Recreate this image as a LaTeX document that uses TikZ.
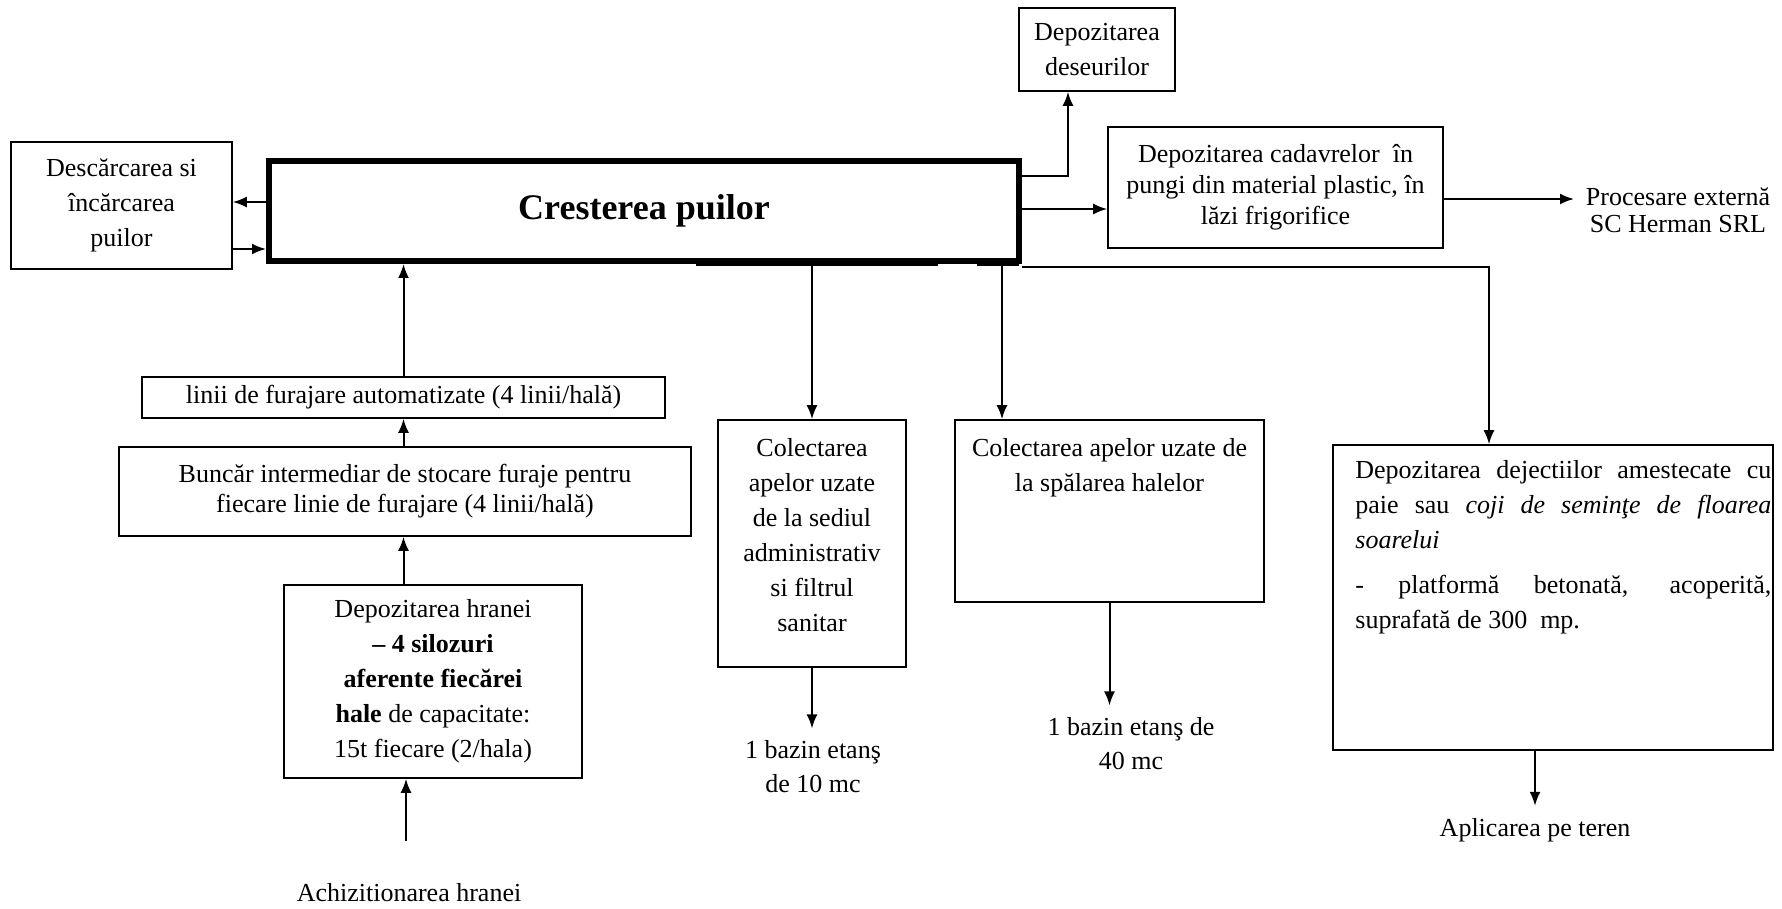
\documentclass[tikz,border=0pt]{standalone}
\usepackage{fontspec}
\setmainfont{Liberation Serif}
\usetikzlibrary{arrows.meta}
\begin{document}
\begin{tikzpicture}[x=0.5pt,y=-0.5pt,
  box/.style={draw, line width=0.8pt, inner sep=0pt},
  txt/.style={font=\fontsize{13}{17.5}\selectfont, align=center, inner sep=0pt},
  tight/.style={font=\fontsize{13}{15.5}\selectfont},
  lbl/.style={font=\fontsize{13}{17}\selectfont, align=center, inner sep=6pt},
  arr/.style={line width=1pt, -{Latex[length=7pt,width=5.5pt]}}]
\useasboundingbox (0,0) rectangle (1782,909);
% boxes
\node[box, txt, minimum width=110.5pt, minimum height=63.5pt] (desc) at (121.5,205.5) {Descărcarea si\\încărcarea\\puilor};
\node[draw, line width=3pt, minimum width=375pt, minimum height=50pt, inner sep=0pt, font=\fontsize{18}{22}\selectfont\bfseries] (main) at (644,211) {\raisebox{-2pt}{Cresterea puilor}\hspace{15pt}};
\node[box, txt, minimum width=78pt, minimum height=41.5pt] (dese) at (1097,49.5) {Depozitarea\\deseurilor};
\node[box, txt, tight, minimum width=167.5pt, minimum height=60.5pt] (cad) at (1275.5,187.5) {Depozitarea cadavrelor\ \ în\\pungi din material plastic, în\\lăzi frigorifice};
\node[txt, font=\fontsize{13}{13.5}\selectfont] (proc) at (1678,210) {Procesare externă\\SC Herman SRL};
\node[box, minimum width=220pt, minimum height=152.5pt] (dej) at (1553,597.5) {};
\node[txt, align=justify, text width=208pt, anchor=north west] (dejt) at (1355,460) {Depozitarea dejectiilor amestecate cu\linebreak paie sau \textit{coji de seminţe de floarea}\linebreak \textit{soarelui}\\[5pt]- platformă betonată, acoperită,\linebreak suprafată de 300\ \ mp.};
\node[box, minimum width=94pt, minimum height=123.5pt] (col1) at (812,543.5) {};
\node[txt, anchor=north] (col1t) at (812,438) {Colectarea\\apelor uzate\\de la sediul\\administrativ\\si filtrul\\sanitar};
\node[box, minimum width=154.5pt, minimum height=91pt] (col2) at (1109.5,511) {};
\node[txt, anchor=north] (col2t) at (1109.5,438) {Colectarea apelor uzate de\\la spălarea halelor};
\node[box, txt, minimum width=261.5pt, minimum height=20.5pt] (linii) at (403.5,397.5) {linii de furajare automatizate (4 linii/hală)};
\node[box, txt, font=\fontsize{13}{15}\selectfont, minimum width=286pt, minimum height=44.5pt] (buncar) at (405,491.5) {Buncăr intermediar de stocare furaje pentru\\fiecare linie de furajare (4 linii/hală)};
\node[box, txt, minimum width=149pt, minimum height=96.5pt] (hrana) at (433,681.5) {Depozitarea hranei\\\textbf{– 4 silozuri}\\\textbf{aferente fiecărei}\\\textbf{hale} de capacitate:\\15t fiecare (2/hala)};
% free labels
\node[lbl] (baz1) at (813,767) {1 bazin etanş\\de 10 mc};
\node[lbl] (baz2) at (1131,744) {1 bazin etanş de\\40 mc};
\node[lbl] (aplic) at (1535,830) {Aplicarea pe teren};
\node[lbl] (achiz) at (409,893) {Achizitionarea hranei};
% extra thickening under main box
\draw[line width=1.5pt] (696,265) -- (938,265);
\draw[line width=1.5pt] (977,265) -- (1019,265);
% connectors
\coordinate (a1) at ([yshift=4.5pt]main.west);
\draw[arr] (a1) -- (a1 -| desc.east);
\coordinate (a2) at ([yshift=-21.75pt]desc.east);
\draw[arr] (a2) -- (a2 -| main.west);
\coordinate (a3) at ([yshift=17.5pt]main.east);
\draw[arr] (a3) -| ([xshift=-14.5pt]dese.south);
\coordinate (a4) at ([yshift=1pt]main.east);
\draw[arr] (a4) -- (a4 -| cad.west);
\coordinate (a5) at ([yshift=-5.75pt]cad.east);
\coordinate (a5e) at (1574,199);
\draw[arr] (a5) -- (a5e);
\coordinate (a6) at ([yshift=-1.5pt]main.south east);
\draw[arr] (a6) -| ([xshift=-32pt]dej.north);
\draw[arr] (main.south -| col1.north) -- (col1.north);
\coordinate (c2) at ([xshift=-53.75pt]col2.north);
\draw[arr] (main.south -| c2) -- (c2);
\draw[arr] (col1.south) -- (col1.south |- baz1.north);
\draw[arr] (col2.south) -- (col2.south |- baz2.north);
\coordinate (d1) at ([xshift=-9pt]dej.south);
\draw[arr] (d1) -- (d1 |- aplic.north);
\draw[arr] (linii.north) -- (linii.north |- main.south);
\draw[arr] (buncar.north -| linii.north) -- (linii.south);
\draw[arr] (hrana.north -| linii.north) -- (buncar.south -| linii.north);
\coordinate (h0) at (406,841);
\draw[arr] (h0) -- (h0 |- hrana.south);
\end{tikzpicture}
\end{document}
